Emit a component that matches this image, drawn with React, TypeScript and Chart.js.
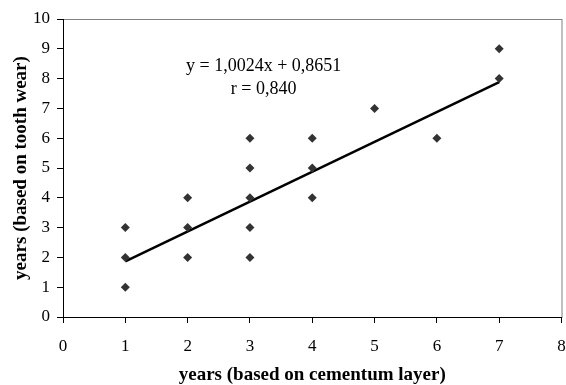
import React, { useEffect, useRef } from "react";
import { Chart, registerables } from "chart.js";

Chart.register(...registerables);

const cementumYears = [1, 1, 1, 2, 2, 2, 3, 3, 3, 3, 3, 4, 4, 4, 5, 6, 7, 7];
const toothWearYears = [1, 2, 3, 2, 3, 4, 2, 3, 4, 5, 6, 4, 5, 6, 7, 6, 8, 9];
const trendX = [1, 7];
const trendY = [1.8675, 7.8819];
const xTicks = [0, 1, 2, 3, 4, 5, 6, 7, 8];
const yTicks = [0, 1, 2, 3, 4, 5, 6, 7, 8, 9, 10];
const equationLines = ["y = 1,0024x + 0,8651", "r = 0,840"];
const xTitle = "years (based on cementum layer)";
const yTitle = "years (based on tooth wear)";

const FONT = "'Liberation Serif', 'Times New Roman', serif";

export default function App() {
  const ref = useRef<HTMLCanvasElement | null>(null);

  useEffect(() => {
    if (!ref.current) return;
    const frame = {
      id: "frame",
      beforeDraw(chart: any) {
        const { ctx, chartArea: a } = chart;
        ctx.save();
        ctx.strokeStyle = "#808080";
        ctx.lineWidth = 1;
        ctx.strokeRect(a.left + 0.5, a.top + 0.5, a.right - a.left, a.bottom - a.top);
        ctx.restore();
      },
      afterDatasetsDraw(chart: any) {
        const { ctx, scales } = chart;
        ctx.save();
        ctx.fillStyle = "#000";
        ctx.font = `18px ${FONT}`;
        ctx.textAlign = "center";
        ctx.textBaseline = "middle";
        const cx = scales.x.getPixelForValue(3.22);
        ctx.fillText(equationLines[0], cx, scales.y.getPixelForValue(8.4));
        ctx.fillText(equationLines[1], cx, scales.y.getPixelForValue(7.63));
        ctx.restore();
      },
    };
    const chart = new Chart(ref.current, {
      type: "scatter",
      data: {
        datasets: [
          {
            type: "line",
            data: trendX.map((x, i) => ({ x, y: trendY[i] })),
            borderColor: "#000",
            borderWidth: 2.5,
            pointRadius: 0,
            fill: false,
            order: 2,
          } as any,
          {
            data: cementumYears.map((x, i) => ({ x, y: toothWearYears[i] })),
            pointStyle: "rectRot",
            pointRadius: 4.5,
            backgroundColor: "#333333",
            borderColor: "#333333",
            borderWidth: 0,
            order: 1,
          },
        ],
      },
      options: {
        animation: false,
        responsive: false,
        events: [],
        layout: { padding: { top: 19, right: 4, left: 0, bottom: 0 } },
        plugins: { legend: { display: false }, tooltip: { enabled: false } },
        scales: {
          x: {
            type: "linear",
            min: 0,
            max: 8,
            afterBuildTicks: (s: any) => {
              s.ticks = xTicks.map((v) => ({ value: v }));
            },
            afterFit: (s: any) => {
              s.height = 68;
              s.paddingLeft = 0;
              s.paddingRight = 0;
            },
            grid: { drawOnChartArea: false, drawTicks: true, tickLength: 6, color: "#000" },
            border: { display: true, color: "#000", width: 1 },
            ticks: { color: "#000", font: { family: FONT, size: 17 }, padding: 13, maxRotation: 0 },
            title: {
              display: true,
              text: xTitle,
              color: "#000",
              font: { family: FONT, size: 19, weight: "bold", lineHeight: 1 },
              padding: { top: 0, bottom: 0 },
            },
          },
          y: {
            type: "linear",
            min: 0,
            max: 10,
            afterBuildTicks: (s: any) => {
              s.ticks = yTicks.map((v) => ({ value: v }));
            },
            afterFit: (s: any) => {
              s.width = 63;
              s.paddingTop = 0;
              s.paddingBottom = 0;
            },
            grid: { drawOnChartArea: false, drawTicks: true, tickLength: 6, color: "#000" },
            border: { display: true, color: "#000", width: 1 },
            ticks: { color: "#000", font: { family: FONT, size: 17 }, padding: 7 },
            title: {
              display: true,
              text: yTitle,
              color: "#000",
              font: { family: FONT, size: 19, weight: "bold", lineHeight: 1.2 },
              padding: { top: 10, bottom: 0 },
            },
          },
        },
      },
      plugins: [frame],
    } as any);
    return () => chart.destroy();
  }, []);

  return (
    <div style={{ position: "absolute", left: 0, top: 0, width: 566, height: 385, background: "#fff" }}>
      <canvas ref={ref} width={566} height={385} style={{ display: "block" }} />
    </div>
  );
}
